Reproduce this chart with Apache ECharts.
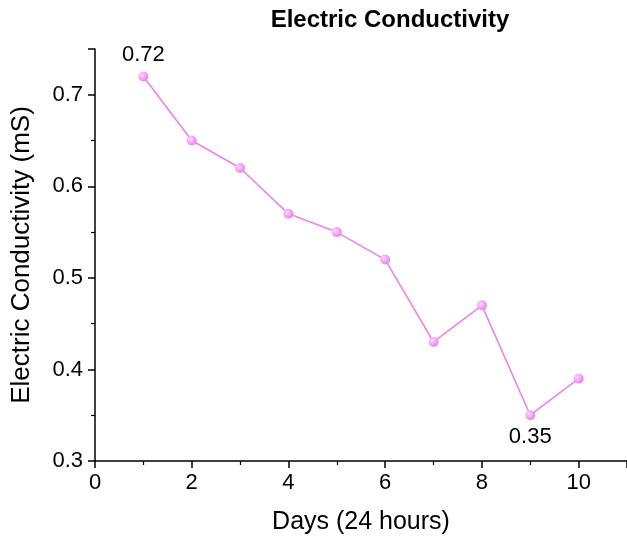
<!DOCTYPE html>
<html>
<head>
<meta charset="utf-8">
<script src="https://cdn.jsdelivr.net/npm/echarts@6/dist/echarts.min.js"></script>
<style>
  html, body { margin: 0; padding: 0; background: #fff; }
  #chart { width: 627px; height: 540px; }
</style>
</head>
<body>
<div id="chart"></div>
<script>
// data
const days = [1, 2, 3, 4, 5, 6, 7, 8, 9, 10];
const conductivity = [0.72, 0.65, 0.62, 0.57, 0.55, 0.52, 0.43, 0.47, 0.35, 0.39];
// points that carry a value label, and where
const labelled = { 0: 'top', 8: 'bottom' };

const myChart = echarts.init(document.getElementById('chart'));
const font = 'Liberation Sans, Arial, sans-serif';

const axisCommon = {
    axisLine: { show: true, lineStyle: { color: '#000', width: 1.5 } },
    axisTick: { show: true, inside: false, length: 7, lineStyle: { color: '#000', width: 1.5 } },
    minorTick: { show: true, splitNumber: 2, length: 4, lineStyle: { color: '#000', width: 1.2 } },
    splitLine: { show: false },
    axisLabel: { color: '#000', fontSize: 22, fontFamily: font, showMaxLabel: false },
    nameTextStyle: { color: '#000', fontSize: 24, fontFamily: font }
};

const option = {
    animation: false,
    backgroundColor: '#fff',
    title: {
        text: 'Electric Conductivity',
        left: 385,
        textAlign: 'center',
        top: 3,
        textStyle: { fontSize: 24, fontWeight: 'bold', color: '#000', fontFamily: font }
    },
    grid: { left: 95, right: 0, top: 49, bottom: 79 },
    xAxis: Object.assign({}, axisCommon, {
        type: 'value',
        min: 0,
        max: 11,
        interval: 2,
        name: 'Days (24 hours)',
        nameLocation: 'middle',
        nameGap: 49,
        nameTextStyle: Object.assign({}, axisCommon.nameTextStyle, { fontSize: 25 }),
        axisLabel: Object.assign({}, axisCommon.axisLabel, { margin: 11 })
    }),
    yAxis: Object.assign({}, axisCommon, {
        type: 'value',
        min: 0.3,
        max: 0.75,
        interval: 0.1,
        name: 'Electric Conductivity (mS)',
        nameLocation: 'middle',
        nameGap: 60,
        nameRotate: 90,
        nameTextStyle: Object.assign({}, axisCommon.nameTextStyle, { fontSize: 26 }),
        axisLabel: Object.assign({}, axisCommon.axisLabel, {
            margin: 12,
            formatter: v => (Math.abs(v - 0.75) < 1e-9 ? '' : String(+v.toFixed(2)))
        })
    }),
    series: [{
        type: 'line',
        data: days.map((d, i) => {
            const item = { value: [d, conductivity[i]] };
            if (labelled[i]) {
                item.label = {
                    show: true,
                    position: labelled[i],
                    distance: 6,
                    formatter: String(conductivity[i]),
                    color: '#000',
                    fontSize: 22,
                    fontFamily: font
                };
            }
            return item;
        }),
        symbol: 'circle',
        symbolSize: 10,
        lineStyle: { color: '#ee82ee', width: 1.6 },
        itemStyle: {
            color: new echarts.graphic.RadialGradient(0.35, 0.35, 0.7, [
                { offset: 0, color: '#fcd6fc' },
                { offset: 1, color: '#ea80ea' }
            ]),
            borderWidth: 0
        }
    }]
};

myChart.setOption(option);
</script>
</body>
</html>
